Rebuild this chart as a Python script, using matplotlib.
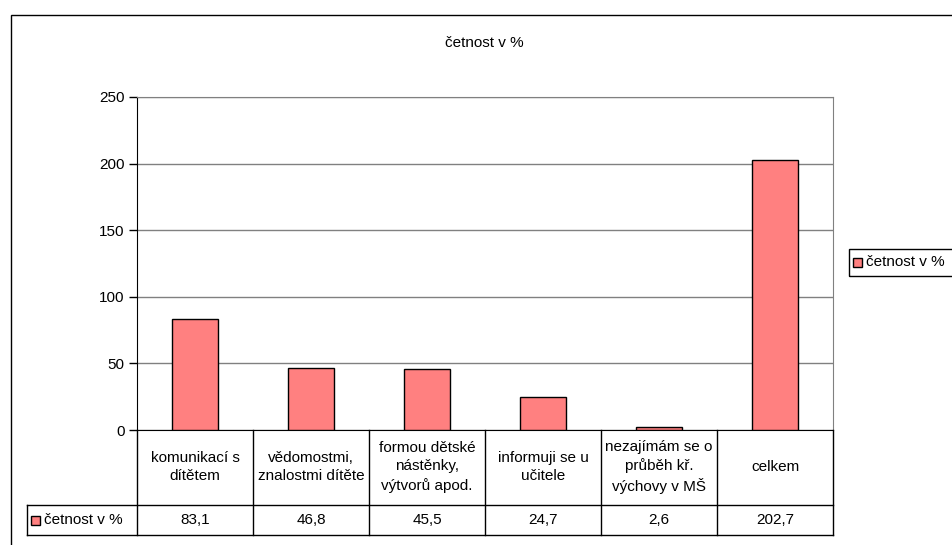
import matplotlib.pyplot as plt
from matplotlib.lines import Line2D
from matplotlib.patches import Rectangle

plt.rcParams['font.family'] = ['Liberation Sans', 'DejaVu Sans']
plt.rcParams['font.size'] = 11

W, H = 952, 545

categories = [
    "komunikací s\ndítětem",
    "vědomostmi,\nznalostmi dítěte",
    "formou dětské\nnástěnky,\nvýtvorů apod.",
    "informuji se u\nučitele",
    "nezajímám se o\nprůběh kř.\nvýchovy v MŠ",
    "celkem",
]
values = [83.1, 46.8, 45.5, 24.7, 2.6, 202.7]
series_name = "četnost v %"
title = "četnost v %"
yticks = [0, 50, 100, 150, 200, 250]

BAR = "#FF8080"
FS = 11


def fx(x):
    return x / W


def fy(y):
    return 1 - y / H


fig = plt.figure(figsize=(W / 100, H / 100), dpi=100)

# outer chart frame
fig.add_artist(Rectangle((fx(11), fy(560)), fx(960) - fx(11), fy(15) - fy(560),
                         transform=fig.transFigure, fill=False, edgecolor="black", lw=1.0))

ax = fig.add_axes([fx(137), fy(430), fx(833) - fx(137), fy(97) - fy(430)])
x = list(range(len(categories)))
ax.bar(x, values, width=0.4, color=BAR, edgecolor="black", linewidth=1.0, zorder=3,
       label=series_name)
ax.set_xlim(-0.5, len(categories) - 0.5)
ax.set_ylim(0, 250)
ax.set_yticks(yticks)
ax.set_xticks([])
ax.yaxis.grid(True, color="#808080", linewidth=1.0, zorder=0)
ax.tick_params(axis="y", length=6, width=1, labelsize=FS, pad=3)
for s in ["top", "right"]:
    ax.spines[s].set_color("#808080")
ax.spines["left"].set_color("black")
ax.spines["bottom"].set_color("black")

fig.text(fx(484), fy(43), title, ha="center", va="center", fontsize=FS)

# data table below axis
col_edges = [fx(137) + (fx(833) - fx(137)) * i / len(categories) for i in range(len(categories) + 1)]
lc = "black"
lw = 1.0
for xe in col_edges:
    fig.add_artist(Line2D([xe, xe], [fy(430), fy(535)], transform=fig.transFigure, color=lc, lw=lw))
fig.add_artist(Line2D([fx(27), fx(833)], [fy(505), fy(505)], transform=fig.transFigure, color=lc, lw=lw))
fig.add_artist(Line2D([fx(27), fx(833)], [fy(535), fy(535)], transform=fig.transFigure, color=lc, lw=lw))
fig.add_artist(Line2D([fx(27), fx(27)], [fy(505), fy(535)], transform=fig.transFigure, color=lc, lw=lw))

for i, (cat, v) in enumerate(zip(categories, values)):
    cx = (col_edges[i] + col_edges[i + 1]) / 2
    fig.text(cx, fy(467), cat, ha="center", va="center", fontsize=FS, linespacing=1.38)
    fig.text(cx, fy(520), f"{v:.1f}".replace(".", ","), ha="center", va="center", fontsize=FS)

# legend key in table header
fig.add_artist(Rectangle((fx(31), fy(525)), fx(40) - fx(31), fy(516) - fy(525),
                         transform=fig.transFigure, facecolor=BAR, edgecolor="black", lw=1.0))
fig.text(fx(44), fy(520), series_name, ha="left", va="center", fontsize=FS)

# legend on the right
fig.add_artist(Rectangle((fx(849), fy(276)), fx(960) - fx(849), fy(249) - fy(276),
                         transform=fig.transFigure, fill=False, edgecolor="black", lw=1.0))
fig.add_artist(Rectangle((fx(853), fy(267)), fx(862) - fx(853), fy(258) - fy(267),
                         transform=fig.transFigure, facecolor=BAR, edgecolor="black", lw=1.0))
fig.text(fx(866), fy(262.5), series_name, ha="left", va="center", fontsize=FS)

fig.savefig("out.png", dpi=100)
